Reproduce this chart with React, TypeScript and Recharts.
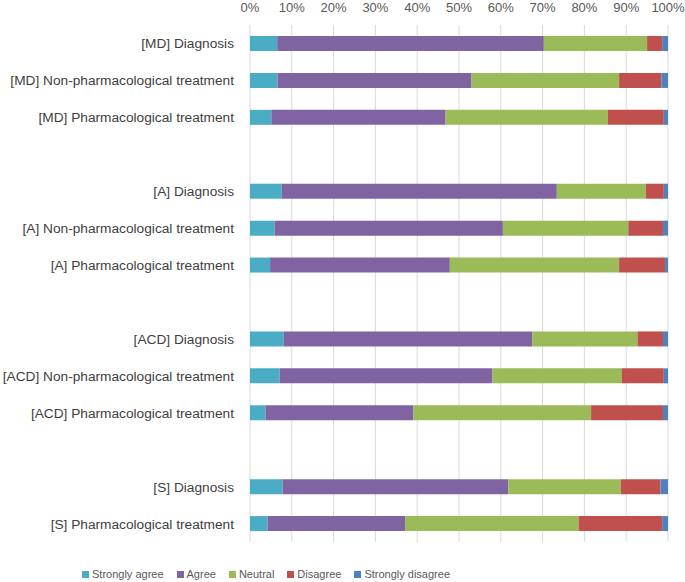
import React from 'react';
import { BarChart, Bar, XAxis, YAxis, CartesianGrid, Legend } from 'recharts';

const categories = [
  '[MD] Diagnosis',
  '[MD] Non-pharmacological treatment',
  '[MD] Pharmacological treatment',
  'gap1',
  '[A] Diagnosis',
  '[A] Non-pharmacological treatment',
  '[A] Pharmacological treatment',
  'gap2',
  '[ACD] Diagnosis',
  '[ACD] Non-pharmacological treatment',
  '[ACD] Pharmacological treatment',
  'gap3',
  '[S] Diagnosis',
  '[S] Pharmacological treatment',
];

// percentages per category (0 for the spacer rows)
const stronglyAgree = [6.5, 6.6, 5.1, 0, 7.6, 5.9, 4.8, 0, 8.1, 7.1, 3.7, 0, 7.8, 4.2];
const agree = [63.8, 46.4, 41.7, 0, 65.8, 54.6, 43.0, 0, 59.4, 50.9, 35.4, 0, 54.0, 32.9];
const neutral = [24.7, 35.3, 38.8, 0, 21.3, 30.0, 40.5, 0, 25.2, 30.9, 42.5, 0, 26.9, 41.5];
const disagree = [3.6, 10.1, 13.4, 0, 4.3, 8.3, 11.0, 0, 6.1, 10.1, 17.2, 0, 9.5, 20.0];
const stronglyDisagree = [1.4, 1.6, 1.0, 0, 1.0, 1.2, 0.7, 0, 1.2, 1.0, 1.2, 0, 1.8, 1.4];

const seriesNames = ['Strongly agree', 'Agree', 'Neutral', 'Disagree', 'Strongly disagree'];
const seriesColors = ['#4bacc6', '#8064a2', '#9bbb59', '#c0504d', '#4f81bd'];

const xTicks = [0, 0.1, 0.2, 0.3, 0.4, 0.5, 0.6, 0.7, 0.8, 0.9, 1];

const data = categories.map((name, i) => ({
  name,
  sa: stronglyAgree[i],
  a: agree[i],
  n: neutral[i],
  d: disagree[i],
  sd: stronglyDisagree[i],
}));

const font = "'Liberation Sans', Arial, sans-serif";

const CategoryTick = (props: any) => {
  const { x, y, payload } = props;
  const label = String(payload.value);
  if (label.startsWith('gap')) return null;
  return (
    <text x={x} y={y} dy={5} textAnchor="end" fontSize={13.7} fill="#404040" fontFamily={font}>
      {label}
    </text>
  );
};

const LegendContent = () => (
  <div style={{ display: 'flex', justifyContent: 'center', alignItems: 'center', fontSize: 11, color: '#595959' }}>
    {seriesNames.map((name, i) => (
      <div key={name} style={{ display: 'flex', alignItems: 'center', marginRight: i < seriesNames.length - 1 ? 13 : 0 }}>
        <span style={{ width: 7, height: 7, background: seriesColors[i], marginRight: 3, display: 'inline-block' }} />
        <span>{name}</span>
      </div>
    ))}
  </div>
);

export default function App() {
  return (
    <div style={{ position: 'absolute', left: 0, top: 0, fontFamily: font }}>
      <BarChart
        width={685}
        height={582}
        data={data}
        layout="vertical"
        stackOffset="expand"
        barSize={15}
        margin={{ top: 0, right: 17, bottom: 0, left: 0 }}
      >
        <CartesianGrid horizontal={false} stroke="#d9d9d9" />
        <XAxis
          type="number"
          orientation="top"
          domain={[0, 1]}
          ticks={xTicks}
          tickFormatter={(v) => `${Math.round(v * 100)}%`}
          axisLine={false}
          tickLine={false}
          height={25}
          tickMargin={7}
          tick={{ fontSize: 13, fill: '#595959', fontFamily: font }}
          interval={0}
        />
        <YAxis
          type="category"
          dataKey="name"
          width={250}
          axisLine={false}
          tickLine={false}
          interval={0}
          tickMargin={10}
          tick={<CategoryTick />}
        />
        <Legend
          verticalAlign="bottom"
          content={<LegendContent />}
          wrapperStyle={{ paddingTop: 26, paddingBottom: 2, left: 0, width: 532, fontFamily: font }}
        />
        <Bar dataKey="sa" name={seriesNames[0]} stackId="s" fill={seriesColors[0]} isAnimationActive={false} />
        <Bar dataKey="a" name={seriesNames[1]} stackId="s" fill={seriesColors[1]} isAnimationActive={false} />
        <Bar dataKey="n" name={seriesNames[2]} stackId="s" fill={seriesColors[2]} isAnimationActive={false} />
        <Bar dataKey="d" name={seriesNames[3]} stackId="s" fill={seriesColors[3]} isAnimationActive={false} />
        <Bar dataKey="sd" name={seriesNames[4]} stackId="s" fill={seriesColors[4]} isAnimationActive={false} />
      </BarChart>
    </div>
  );
}
